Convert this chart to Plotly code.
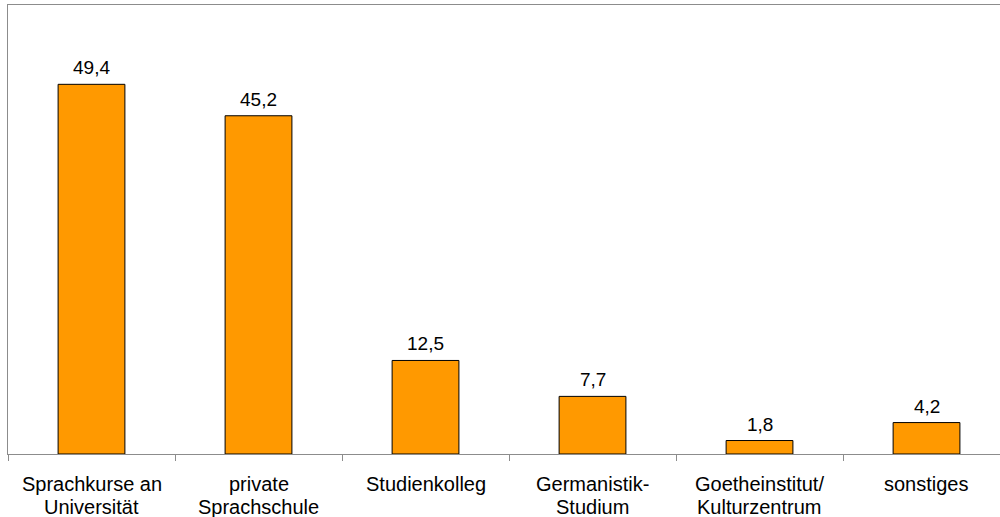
import plotly.graph_objects as go

categories = [("Sprachkurse an", "Universität"), ("private", "Sprachschule"), ("Studienkolleg", ""),
              ("Germanistik-", "Studium"), ("Goetheinstitut/", "Kulturzentrum"), ("sonstiges", "")]
values = [49.4, 45.2, 12.5, 7.7, 1.8, 4.2]
positions = list(range(len(categories)))

FONT = "Liberation Sans, Arial, sans-serif"

fig = go.Figure()
fig.add_trace(go.Bar(
    x=positions, y=values, width=0.4,
    marker=dict(color="#FF9900", line=dict(color="#000000", width=1)),
    hoverinfo="skip",
))

# value labels above each bar
for p, v in zip(positions, values):
    fig.add_annotation(x=p, y=v, text=f"{v:.1f}".replace(".", ","), showarrow=False,
                       yanchor="bottom", yshift=4, font=dict(size=19, color="#000000"))

# two-line category labels under the axis
for p, (line1, line2) in zip(positions, categories):
    for txt, shift in ((line1, -17), (line2, -40)):
        if txt:
            fig.add_annotation(x=p, y=0, xref="x", yref="paper", text=txt, showarrow=False,
                               yanchor="top", yshift=shift, font=dict(size=20, color="#000000"))

axis_col = "#8c8c8c"
fig.update_layout(
    width=1000, height=517,
    margin=dict(l=8, r=0, t=5, b=63),
    paper_bgcolor="white", plot_bgcolor="white",
    showlegend=False,
    font=dict(family=FONT, size=19, color="#000000"),
    xaxis=dict(
        range=[-0.5, 5.44], tickmode="array", tickvals=positions, showticklabels=False,
        ticks="", showgrid=False, zeroline=False, showline=True, linecolor=axis_col,
        linewidth=1, mirror=True,
        minor=dict(ticks="outside", tick0=-0.5, dtick=1, ticklen=6, tickcolor=axis_col, showgrid=False),
    ),
    yaxis=dict(
        range=[0, 60], showticklabels=False, ticks="", showgrid=False, zeroline=False,
        showline=True, linecolor=axis_col, linewidth=1, mirror=True,
    ),
)

fig.write_html("out.html")
